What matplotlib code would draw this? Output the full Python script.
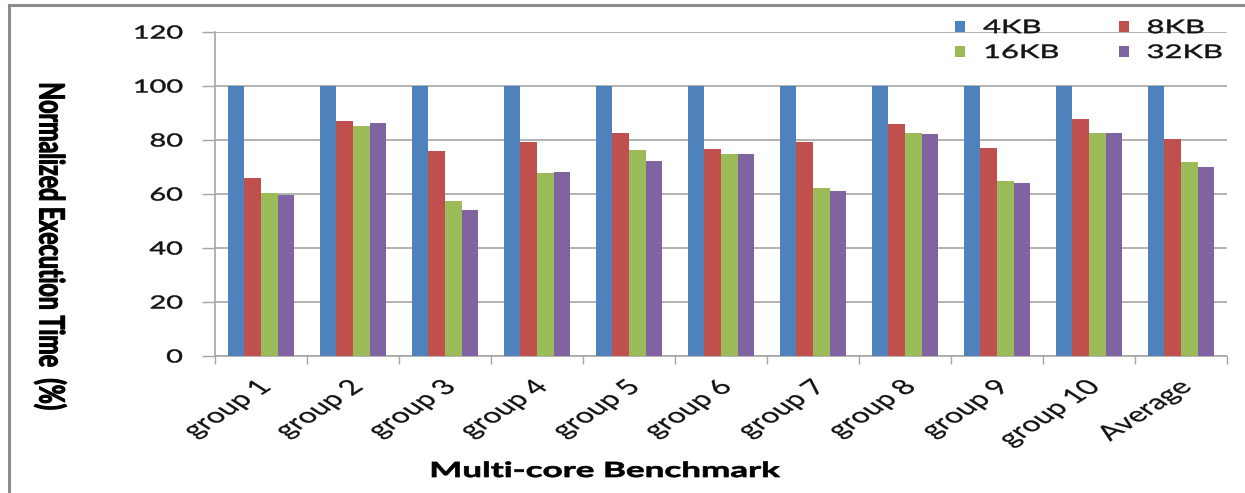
import matplotlib
matplotlib.use("Agg")
import matplotlib.pyplot as plt
import numpy as np
from matplotlib.lines import Line2D
from matplotlib.patheffects import AbstractPathEffect
from matplotlib.transforms import Affine2D, ScaledTranslation

categories = ["group 1", "group 2", "group 3", "group 4", "group 5", "group 6",
              "group 7", "group 8", "group 9", "group 10", "Average"]
series_names = ["4KB", "8KB", "16KB", "32KB"]
kb4 = [100, 100, 100, 100, 100, 100, 100, 100, 100, 100, 100]
kb8 = [65.8, 87.0, 75.9, 79.4, 82.7, 76.7, 79.1, 86.0, 77.0, 87.6, 80.2]
kb16 = [60.2, 85.2, 57.5, 67.7, 76.3, 74.9, 62.1, 82.7, 64.9, 82.7, 71.9]
kb32 = [59.6, 86.3, 53.9, 68.0, 72.2, 74.9, 61.2, 82.3, 64.1, 82.7, 70.1]
y_ticks = [0, 20, 40, 60, 80, 100, 120]

colors = ["#4F81BD", "#C0504D", "#9BBB59", "#8064A2"]
grid_color = "#A6A6A6"
text_color = "#141414"
FONT = ["Lato", "DejaVu Sans"]


class WideText(AbstractPathEffect):
    """Draw text glyphs widened horizontally about an anchor, with a thin outline."""

    def __init__(self, sx=1.5, anchor="center", stroke=0.5):
        super().__init__()
        self.sx = sx
        self.anchor = anchor
        self.stroke = stroke

    def draw_path(self, renderer, gc, tpath, affine, rgbFace=None):
        if len(tpath.vertices) == 0:
            return
        pts = affine.transform(tpath.vertices)
        if self.anchor == "left":
            cx = pts[:, 0].min()
        elif self.anchor == "right":
            cx = pts[:, 0].max()
        else:
            cx = 0.5 * (pts[:, 0].min() + pts[:, 0].max())
        widen = Affine2D().translate(-cx, 0).scale(self.sx, 1).translate(cx, 0)
        gc0 = renderer.new_gc()
        gc0.copy_properties(gc)
        if self.stroke > 0 and rgbFace is not None:
            gc0.set_linewidth(self.stroke)
            gc0.set_foreground(rgbFace)
        renderer.draw_path(gc0, tpath, affine + widen, rgbFace)
        gc0.restore()


fig = plt.figure(figsize=(12.45, 4.93), dpi=100)
ax = fig.add_axes([215 / 1245, 1 - 356 / 493, (1227 - 215) / 1245, (356 - 32) / 493])

x = np.arange(len(categories))
bar_w = 0.18
all_series = [kb4, kb8, kb16, kb32]
handles = []
for i, (vals, name, c) in enumerate(zip(all_series, series_names, colors)):
    b = ax.bar(x + (i - 1.5) * bar_w, vals, width=bar_w, color=c, label=name,
               zorder=3, linewidth=0)
    handles.append(b)

ax.set_xlim(-0.5, len(categories) - 0.5)
ax.set_ylim(0, 120)
ax.yaxis.grid(True, color=grid_color, linewidth=1.2, zorder=0)
ax.tick_params(axis="y", length=9.4, width=1, color=grid_color, pad=14)
ax.tick_params(axis="x", length=0, pad=20)
ax.set_xticks(np.arange(len(categories) + 1) - 0.5, minor=True)
ax.tick_params(axis="x", which="minor", length=6, width=1, color=grid_color)

for s in ["top", "right"]:
    ax.spines[s].set_visible(False)
for s in ["left", "bottom"]:
    ax.spines[s].set_color(grid_color)
    ax.spines[s].set_linewidth(1.2)

ax.set_yticks(y_ticks)
ylabels = ax.set_yticklabels([str(t) for t in y_ticks], fontsize=13,
                             fontfamily=FONT, color=text_color)
for lab in ylabels:
    lab.set_path_effects([WideText(sx=1.6, anchor="right", stroke=0.35)])

# category labels centered on groups, tick marks on group boundaries
ax.set_xticks(x)
xlabels = ax.set_xticklabels(categories, rotation=45, ha="right", va="center",
                             rotation_mode="anchor", fontsize=15,
                             fontfamily=FONT, color=text_color)
shift = ScaledTranslation(7 / 100, 0, fig.dpi_scale_trans)
for lab in xlabels:
    lab.set_path_effects([WideText(sx=1.55, anchor="right", stroke=0.2)])
    lab.set_transform(lab.get_transform() + shift)

xl = fig.text(605 / 1245, 1 - 471 / 493, "Multi-core Benchmark", ha="center",
              va="center", fontsize=15, fontweight="bold", fontfamily=FONT,
              color="#000000")
xl.set_path_effects([WideText(sx=1.68, anchor="center", stroke=0.5)])
yl = fig.text(50 / 1245, 1 - 246 / 493, "Normalized Execution Time  (%)",
              rotation=-90, ha="center", va="center", fontsize=16.7,
              fontweight="bold", fontfamily=FONT, color="#000000")
yl.set_path_effects([WideText(sx=1.5, anchor="center", stroke=0.8)])

# two rows: 4KB 8KB / 16KB 32KB (legend fills column-wise)
order = [0, 2, 1, 3]
leg = ax.legend([handles[i] for i in order], [series_names[i] for i in order],
                ncol=2, loc="upper left", bbox_to_anchor=(942 / 1245, 1 - 6 / 493),
                bbox_transform=fig.transFigure, frameon=False,
                handlelength=0.53, handleheight=0.53, columnspacing=4.75,
                labelspacing=0.42, handletextpad=0.96, borderpad=0.2,
                prop={"family": FONT, "size": 13.5})
for t in leg.get_texts():
    t.set_color(text_color)
    t.set_path_effects([WideText(sx=1.65, anchor="left", stroke=0.35)])

# outer chart border
fig.add_artist(Line2D([9 / 1245, 9 / 1245], [0, 1 - 5 / 493],
                      transform=fig.transFigure, color="#8C8C8C", linewidth=2.2))
fig.add_artist(Line2D([9 / 1245, 1], [1 - 5 / 493, 1 - 5 / 493],
                      transform=fig.transFigure, color="#8C8C8C", linewidth=2.2))

fig.savefig("out.png", dpi=100)
